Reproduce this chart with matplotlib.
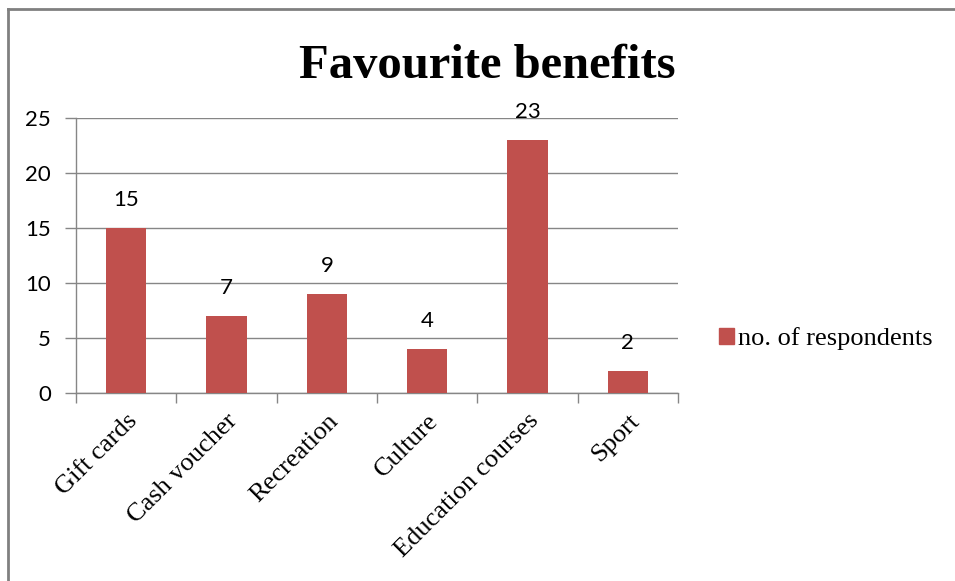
import matplotlib
matplotlib.use("Agg")
import matplotlib.pyplot as plt
from matplotlib.lines import Line2D
from matplotlib.patches import Patch

categories = ["Gift cards", "Cash voucher", "Recreation", "Culture", "Education courses", "Sport"]
values = [15, 7, 9, 4, 23, 2]
series_name = "no. of respondents"
title = "Favourite benefits"
yticks = [0, 5, 10, 15, 20, 25]

W, H = 955, 581
fig = plt.figure(figsize=(W / 100, H / 100), dpi=100)
bar_color = "#C0504D"
grid_color = "#868686"

ax = fig.add_axes([76 / W, 1 - 393 / H, (678 - 76) / W, (393 - 118) / H])
x = list(range(len(categories)))
ax.bar(x, values, width=0.4, color=bar_color, zorder=3)
ax.set_xlim(-0.5, len(categories) - 0.5)
ax.set_ylim(0, 25)
ax.set_yticks(yticks)
ax.set_yticklabels([str(t) for t in yticks], fontfamily="Lato", fontsize=16)
ax.yaxis.grid(True, color=grid_color, linewidth=1, zorder=0)
ax.tick_params(axis="y", length=8, width=1, color=grid_color, pad=10)
ax.set_xticks([i - 0.5 for i in range(len(categories) + 1)])
ax.set_xticklabels([])
ax.tick_params(axis="x", length=7, width=1, color=grid_color, direction="out")
ax.set_xticks(x, minor=True)
ax.set_xticklabels(categories, minor=True, rotation=45, ha="right", rotation_mode="anchor",
                   fontfamily="Liberation Serif", fontsize=19)
ax.tick_params(axis="x", which="minor", length=0, pad=12)
for s in ["top", "right"]:
    ax.spines[s].set_visible(False)
for s in ["left", "bottom"]:
    ax.spines[s].set_color(grid_color)
    ax.spines[s].set_linewidth(1)

for xi, v in zip(x, values):
    ax.annotate(str(v), (xi, v), xytext=(0, 13), textcoords="offset points",
                ha="center", va="bottom", fontfamily="Lato", fontsize=16)

fig.text(487 / W, 1 - 78 / H, title, ha="center", va="baseline",
         fontfamily="Liberation Serif", fontweight="bold", fontsize=35)

fig.legend(handles=[Patch(color=bar_color)], labels=[series_name],
           loc="center left", bbox_to_anchor=(706 / W, 1 - 339 / H), frameon=False,
           prop={"family": "Liberation Serif", "size": 19},
           handlelength=0.55, handleheight=0.55, handletextpad=0.15, borderpad=0)

fig.add_artist(Line2D([7.5 / W, 1], [1 - 8.5 / H, 1 - 8.5 / H], transform=fig.transFigure,
                      color="#808080", linewidth=2))
fig.add_artist(Line2D([7.5 / W, 7.5 / W], [0, 1 - 8.5 / H], transform=fig.transFigure,
                      color="#808080", linewidth=2))

fig.savefig("out.png", dpi=100)
